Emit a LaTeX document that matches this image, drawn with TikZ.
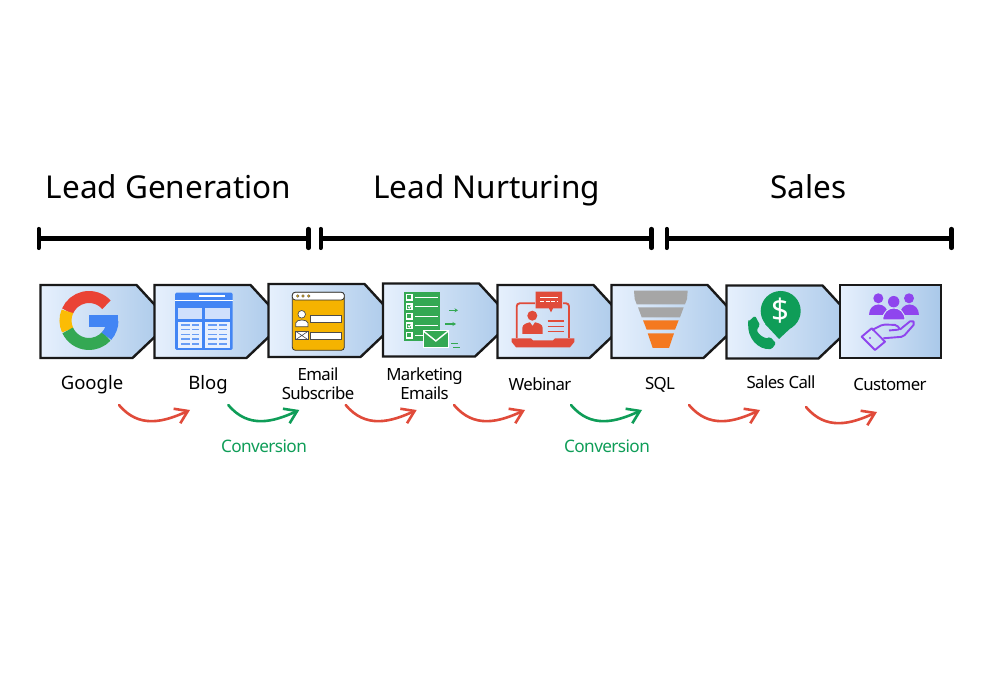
\documentclass[tikz,border=0pt]{standalone}
\usepackage{fontspec}
\setmainfont{Noto Sans}
\newfontfamily\labelfont[LetterSpace=-3.5]{Noto Sans}
\usetikzlibrary{arrows.meta}
\definecolor{gblue}{HTML}{4285F4}
\definecolor{gred}{HTML}{EA4335}
\definecolor{gyellow}{HTML}{FBBC05}
\definecolor{ggreen}{HTML}{34A853}
\definecolor{boxleft}{HTML}{E6F0FD}
\definecolor{boxright}{HTML}{A9C8E9}
\definecolor{flowred}{HTML}{E04B3A}
\definecolor{flowgreen}{HTML}{0F9D58}
\definecolor{formyellow}{HTML}{F5B300}
\definecolor{funnelgray}{HTML}{A6A6A6}
\definecolor{funnelorange}{HTML}{F47920}
\definecolor{custpurple}{HTML}{8F45EE}
\tikzset{
    titlelabel/.style={font=\fontsize{31.5}{34}\selectfont,anchor=base},
    steplabel/.style={font=\labelfont\fontsize{16.8}{19}\selectfont,align=center,text=black},
    widelabel/.style={font=\fontsize{18.5}{21}\selectfont,text=black},
    convlabel/.style={font=\labelfont\fontsize{17.2}{19}\selectfont,text=flowgreen},
    spanbar/.style={line width=4.2pt,{Bar[width=19pt,round]}-{Bar[width=19pt,round]}},
    stepbox/.style={draw=black!90,line width=2.4pt,left color=boxleft,right color=boxright,line join=miter},
    flowarrow/.style={line width=2.6pt,line cap=round,-{Straight Barb[length=12pt,width=16pt,line width=2.6pt]}}
}
\begin{document}
\begin{tikzpicture}[x=1pt,y=1pt]
    \useasboundingbox (0,0) rectangle (990,700);

    % Section titles
    \node[titlelabel] (leadgen) at (168.5,501) {Lead Generation};
    \node[titlelabel] (leadnur) at (486.5,501) {Lead Nurturing};
    \node[titlelabel] (sales) at (808.5,501) {Sales};

    % Span bars
    \coordinate (gen1) at (36.5,461.5);
    \coordinate (gen2) at (310.5,461.5);
    \coordinate (nur1) at (318.5,461.5);
    \coordinate (nur2) at (653.5,461.5);
    \coordinate (sal1) at (664.5,461.5);
    \coordinate (sal2) at (953.5,461.5);
    \draw[spanbar] (gen1) -- (gen2);
    \draw[spanbar] (nur1) -- (nur2);
    \draw[spanbar] (sal1) -- (sal2);

    % Step boxes, each one covers the tip of the previous one
    \foreach \bx/\by/\bname in {40.5/415/bgoogle,154.5/415/bblog,268.5/416/bemail,383/416.5/bmail,497.5/415/bweb,611.5/415/bsql,726.5/414.5/bcall}{
        \coordinate (\bname) at (\bx,\by);
        \draw[stepbox] (\bname) -- +(96,0) -- +(130,-37) -- +(92,-73) -- +(0,-73) -- cycle;
    }
    \draw[stepbox] (840,415) rectangle (941,342);

    % Google
    \begin{scope}[line width=12pt]
        \draw[gred] (89,379.5) ++(42:23.5pt) arc (42:157:23.5pt);
        \draw[gyellow] (89,379.5) ++(157:23.5pt) arc (157:205:23.5pt);
        \draw[ggreen] (89,379.5) ++(205:23.5pt) arc (205:318:23.5pt);
        \draw[gblue] (89,379.5) ++(318:23.5pt) arc (318:360:23.5pt);
    \end{scope}
    \fill[gblue] (89,385) rectangle (118,373);

    % Blog
    \fill[gblue,rounded corners=1.5pt] (175,407.3) rectangle (232.7,350);
    \draw[white,line width=1.8pt] (199,404.3) -- (225,404.3);
    \draw[white,line width=1pt] (175,399.3) -- (232.7,399.3);
    \fill[gblue!25] (177.7,392.3) rectangle (202.3,381);
    \fill[gblue!25] (205.3,392.3) rectangle (230,381);
    \fill[gblue!12] (177.7,378.3) rectangle (202.3,352.3);
    \fill[gblue!12] (205.3,378.3) rectangle (230,352.3);
    \foreach \ly in {375,370.7,365.7,361,356}{
        \draw[gblue!80,line width=1.1pt] (181,\ly) -- (190,\ly);
        \draw[gblue!80,line width=1.1pt] (192,\ly) -- (199,\ly);
        \draw[gblue!80,line width=1.1pt] (208,\ly) -- (217,\ly);
        \draw[gblue!80,line width=1.1pt] (219,\ly) -- (227,\ly);
    }

    % Email form
    \draw[black!80,line width=0.8pt,fill=formyellow,rounded corners=3pt] (292.3,407.7) rectangle (344.3,349.7);
    \draw[black!80,line width=0.8pt,fill=white,rounded corners=3pt] (292.3,400) -- (292.3,407.7) -- (344.3,407.7) -- (344.3,400) -- cycle;
    \foreach \dx in {297.7,303,308.7}{
        \draw[black!70,fill=formyellow,line width=0.4pt] (\dx,404) circle (1.4pt);
    }
    \draw[black!70,fill=white,line width=0.7pt] (310.7,384.7) rectangle (341,377.7);
    \draw[black!70,fill=white,line width=0.7pt] (310.7,368) rectangle (341,361);
    \draw[black!70,fill=white,line width=0.7pt] (301.7,385.7) circle (3.8pt);
    \draw[black!70,fill=white,line width=0.7pt] (295.7,373.3) -- (295.7,377) .. controls (296,381) and (307.7,381) .. (308,377) -- (308,373.3) -- cycle;
    \draw[black!70,fill=white,line width=0.7pt] (295.7,368.7) rectangle (308,360.3);
    \draw[black!70,line width=0.6pt] (295.7,368.7) -- (308,360.3) (295.7,360.3) -- (308,368.7);

    % Marketing emails
    \fill[ggreen] (404,407.7) rectangle (439.7,359);
    \foreach \ry in {402.7,393.3,383.7,374.3,364.7}{
        \draw[white,line width=1.2pt] (406.5,\ry-2.7) rectangle (412,\ry+2.7);
        \draw[white,line width=1.3pt] (415,\ry) -- (437.7,\ry);
    }
    \foreach \ry in {393.3,374.3}{
        \draw[white,line width=1pt] (408,\ry) -- (409.3,\ry-1.3) -- (412.5,\ry+3);
    }
    \draw[white,line width=1pt,fill=ggreen] (423.3,369) rectangle (448.3,352.7);
    \draw[white,line width=1.4pt] (423.3,369) -- (435.8,359) -- (448.3,369);
    \draw[ggreen,line width=1.1pt,-{Stealth[length=3.5pt,width=4pt]}] (449.3,389.7) -- (458,389.7);
    \draw[ggreen,line width=1.1pt,-{Stealth[length=3.5pt,width=4pt]}] (445,376) -- (456,376);
    \draw[ggreen,line width=1.1pt] (451,356.3) -- (458.3,356.3);
    \draw[ggreen,line width=1.1pt] (453.3,352.7) -- (460,352.7);

    % Webinar
    \draw[flowred,line width=1.9pt,rounded corners=3pt] (535,396.7) -- (516.7,396.7) -- (516.7,362);
    \draw[flowred,line width=1.9pt,rounded corners=3pt] (563,396.7) -- (569,396.7) -- (569,362);
    \fill[flowred] (511.7,361.7) -- (531,361.7) -- (533,359.5) -- (553,359.5) -- (555,361.7) -- (574.3,361.7) -- (574.3,358) -- (570,352.7) -- (516,352.7) -- (511.7,358) -- cycle;
    \fill[flowred] (535.7,408.3) -- (562,408.3) -- (562,391.7) -- (553,391.7) -- (551,387.7) -- (549,391.7) -- (535.7,391.7) -- cycle;
    \draw[white,line width=1pt] (540,402) -- (558,402);
    \draw[white,line width=1pt,dash pattern=on 4pt off 1.5pt] (540,398) -- (558,398);
    \fill[flowred] (532.3,384.3) circle (5pt);
    \fill[flowred] (522.3,366) -- (522.3,372) .. controls (522.5,376) and (527,377) .. (530,377.7) -- (532.5,374) -- (535,377.7) .. controls (538,377) and (542.5,376) .. (542.7,372) -- (542.7,366) -- cycle;
    \foreach \ry in {379,373.3,368.3}{
        \draw[flowred,line width=1.5pt] (547.7,\ry) -- (564,\ry);
    }

    % SQL funnel
    \fill[funnelgray] (634,409.3) -- (687.7,409.3) -- (687,401) -- (685,395.7) -- (636.7,395.7) -- (634.7,401) -- cycle;
    \fill[funnelgray] (638,392.7) -- (683.7,392.7) -- (680,382.7) -- (641.7,382.7) -- cycle;
    \fill[funnelorange] (643,379.7) -- (678.7,379.7) -- (675,370.3) -- (646.7,370.3) -- cycle;
    \fill[funnelorange] (647.7,366.7) -- (674,366.7) -- (669,352) -- (652.7,352) -- cycle;

    % Sales call
    \fill[flowgreen] (780.7,389) circle (20pt);
    \fill[flowgreen] (765,376) -- (795,376) -- (779,361) -- cycle;
    \node[text=white,font=\bfseries\fontsize{31}{31}\selectfont,inner sep=0pt] (dollar) at (780.7,389) {\$};
    \fill[flowgreen,rounded corners=1.5pt] (748.3,378.3) -- (755,384.3) -- (760,375) -- (756.7,370) .. controls (759,365) and (764,362) .. (768.3,361.7) -- (770,363.3) -- (776,356.7) -- (771.7,351) .. controls (758,350) and (747,362) .. (748.3,378.3) -- cycle;

    % Customer
    \foreach \hx/\hy/\hr in {878.3/401.7/5,909/401.7/5}{
        \fill[custpurple] (\hx,\hy) circle (\hr pt);
    }
    \fill[custpurple] (869,385) .. controls (869,399) and (888.3,399) .. (888.3,385) -- cycle;
    \fill[custpurple] (900,385) .. controls (900,399) and (919,399) .. (919,385) -- cycle;
    \draw[boxleft!70!boxright,line width=1pt,fill=custpurple] (882.7,380) .. controls (882.7,396) and (905,396) .. (905,380) -- cycle;
    \fill[custpurple] (893.7,398.3) circle (5.7pt);
    \draw[custpurple,line width=1.9pt,line join=round] (861.7,363.3) -- (871.7,371.7) -- (885,358.3) -- (875,350) -- cycle;
    \fill[custpurple] (870,362) circle (1.2pt);
    \draw[custpurple,line width=1.9pt,line join=round,rounded corners=2pt] (872,370) -- (883,375.5) -- (897,375) -- (900,370.5) -- (889,369.5);
    \draw[custpurple,line width=1.9pt,line join=round,rounded corners=2pt] (900,370.5) -- (911.7,380) -- (915,376.7) -- (903.3,363.3) -- (883.3,361.7);

    % Step labels
    \node[widelabel] (lgoogle) at (92,315) {Google};
    \node[widelabel] (lblog) at (208,315) {Blog};
    \node[steplabel] (lemail) at (318,316) {Email\\Subscribe};
    \node[steplabel] (lmail) at (424.5,316) {Marketing\\Emails};
    \node[steplabel] (lweb) at (540,316) {Webinar};
    \node[steplabel] (lsql) at (660,315) {SQL};
    \node[steplabel] (lcall) at (781,318) {Sales Call};
    \node[steplabel] (lcust) at (890,315) {Customer};
    \node[convlabel] (conv1) at (264,254) {Conversion};
    \node[convlabel] (conv2) at (607,254) {Conversion};

    % Curved arrows
    \foreach \an/\ax/\ay/\acol in {a/119/295/flowred,b/228.3/295/flowgreen,c/345.7/295/flowred,d/454/295/flowred,e/571/295/flowgreen,f/689/295/flowred,g/806/293/flowred}{
        \coordinate (s\an) at (\ax,\ay);
        \coordinate (e\an) at (\ax+71,\ay-5);
        \draw[flowarrow,\acol] (s\an) .. controls +(20,-24) and +(-26,-12) .. (e\an);
    }
\end{tikzpicture}
\end{document}
